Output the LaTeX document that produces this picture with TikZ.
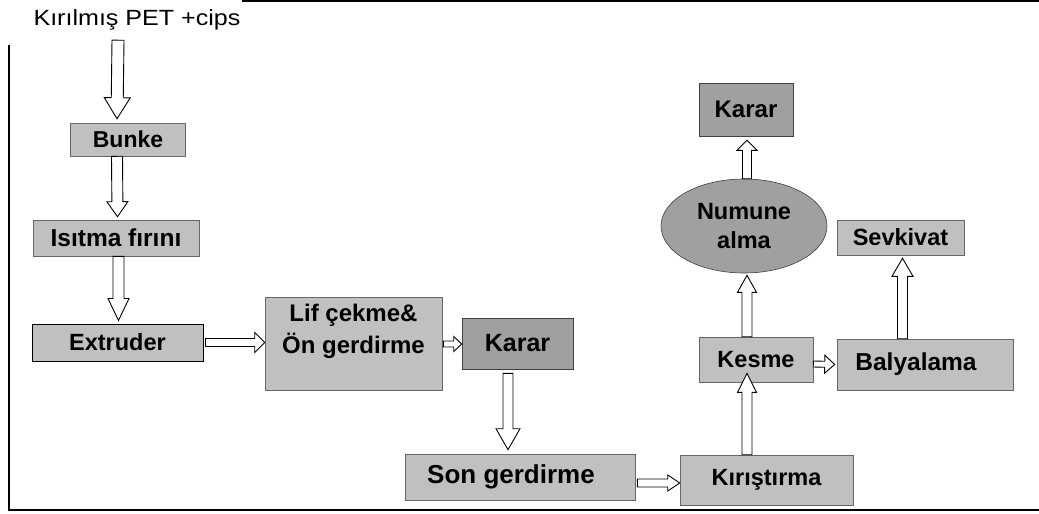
\documentclass[tikz,border=0pt]{standalone}
\usepackage{fontspec}
\setmainfont{Liberation Sans}
\usetikzlibrary{calc,shapes.geometric}
\definecolor{boxgray}{HTML}{C0C0C0}
\definecolor{darkbox}{HTML}{A0A0A0}
\newcommand{\myfs}[1]{\fontsize{#1}{#1}\selectfont}
\tikzset{
  box/.style={draw=black!60, line width=0.6pt, fill=boxgray, inner sep=0pt, font=\bfseries},
  darkboxst/.style={box, fill=darkbox, draw=black!75},
  blk/.style n args={3}{draw=black, fill=white, line width=0.9pt, line join=miter,
    to path={
      ($(\tikztostart)!#1!90:(\tikztotarget)$)
      -- ($($(\tikztotarget)!#3!(\tikztostart)$)!#1!-90:(\tikztostart)$)
      -- ($($(\tikztotarget)!#3!(\tikztostart)$)!#2!-90:(\tikztostart)$)
      -- (\tikztotarget)
      -- ($($(\tikztotarget)!#3!(\tikztostart)$)!#2!90:(\tikztostart)$)
      -- ($($(\tikztotarget)!#3!(\tikztostart)$)!#1!90:(\tikztostart)$)
      -- ($(\tikztostart)!#1!-90:(\tikztotarget)$)
      -- cycle}},
  frame/.style={line width=1.5pt, black}
}
\begin{document}
\begin{tikzpicture}[x=1pt,y=-1pt]
\useasboundingbox (0,0) rectangle (1039,514);
\fill[white] (0,0) rectangle (1039,514);
% frame
\draw[frame] (9,45) -- (9,510) -- (1039,510);
\draw[frame] (242,1) -- (1039,1);
% nodes
\node[inner sep=0pt, minimum height=40pt] (title) at (137,20) {\scalebox{1.14}[1]{\myfs{22}Kırılmış PET +cips}};
\node[box, minimum width=115pt, minimum height=33pt] (bunke) at (128,139.5) {\myfs{23}Bunke};
\node[box, minimum width=166pt, minimum height=36pt] (isi) at (116,238) {\myfs{24.5}Isıtma fırını};
\node[box, draw=black, line width=1pt, minimum width=171pt, minimum height=37pt] (extr) at (117.5,342.5) {\myfs{23.5}Extruder};
\node[box, minimum width=177pt, minimum height=93pt] (lif) at (353.5,344) {\raisebox{13pt}[\height][\depth]{\fontsize{24}{32}\selectfont\begin{tabular}{@{}c@{}}Lif çekme\&\\Ön gerdirme\end{tabular}}};
\node[darkboxst, minimum width=111pt, minimum height=51pt] (karar1) at (517.5,343.5) {\myfs{25}Karar};
\node[box, minimum width=230pt, minimum height=46pt] (son) at (520,477) {\myfs{26}Son gerdirme\kern18pt};
\node[box, minimum width=173pt, minimum height=50pt] (kiris) at (766.5,480) {\myfs{23.5}Kırıştırma};
\node[box, minimum width=114pt, minimum height=45pt] (kesme) at (756,359.5) {\myfs{23.5}Kesme};
\node[box, minimum width=176pt, minimum height=51pt] (baly) at (925,364.5) {\myfs{24.5}Balyalama\kern18pt};
\node[box, minimum width=127pt, minimum height=35pt] (sevk) at (900.5,237.5) {\myfs{23.5}Sevkivat};
\node[darkboxst, ellipse, minimum width=166pt, minimum height=94pt, align=center, font=\bfseries\fontsize{23.5}{29}\selectfont] (numune) at (744,226) {Numune\\alma};
\node[darkboxst, minimum width=94pt, minimum height=53pt] (karar2) at (746,109.5) {\myfs{24}Karar};
% block arrows
\draw[blk={6pt}{13pt}{21pt}] ([xshift=-19pt]title.south) to ([xshift=-11pt,yshift=4pt]bunke.north);
\draw[blk={5.5pt}{10.5pt}{15pt}] ([xshift=-11pt]bunke.south) to ([xshift=1.5pt,yshift=3pt]isi.north);
\draw[blk={5.5pt}{10.5pt}{22pt}] ([xshift=2.5pt]isi.south) to ([xshift=1pt,yshift=3pt]extr.north);
\draw[blk={4pt}{10pt}{10pt}] ([xshift=2pt]extr.east) to (lif.west |- extr.east);
\draw[blk={3pt}{7.5pt}{8pt}] ([xshift=1pt]lif.east) to (karar1.west |- lif.east);
\draw[blk={5pt}{12pt}{21pt}] ([xshift=-9.5pt,yshift=-4pt]karar1.south) to ([xshift=-12pt,yshift=4pt]son.north);
\draw[blk={4pt}{8pt}{12pt}] ([xshift=2pt,yshift=-6pt]son.east) to ([yshift=-3pt]kiris.west);
\draw[blk={5pt}{9.5pt}{19pt}] ([xshift=-19.5pt]kiris.north) to ([xshift=-9pt,yshift=9pt]kesme.south);
\draw[blk={5pt}{9.5pt}{17pt}] ([xshift=-9pt]kesme.north) to ([xshift=3pt,yshift=-2pt]numune.south);
\draw[blk={4.5pt}{10pt}{10pt}] ([xshift=3pt]numune.north) to ([xshift=1pt,yshift=-4pt]karar2.south);
\draw[blk={3pt}{9pt}{10pt}] ([yshift=-4.5pt]kesme.east) to ([xshift=-2pt]baly.west);
\draw[blk={5pt}{10.5pt}{18pt}] ([xshift=-22.5pt]baly.north) to ([xshift=2pt,yshift=-3pt]sevk.south);
\end{tikzpicture}
\end{document}
